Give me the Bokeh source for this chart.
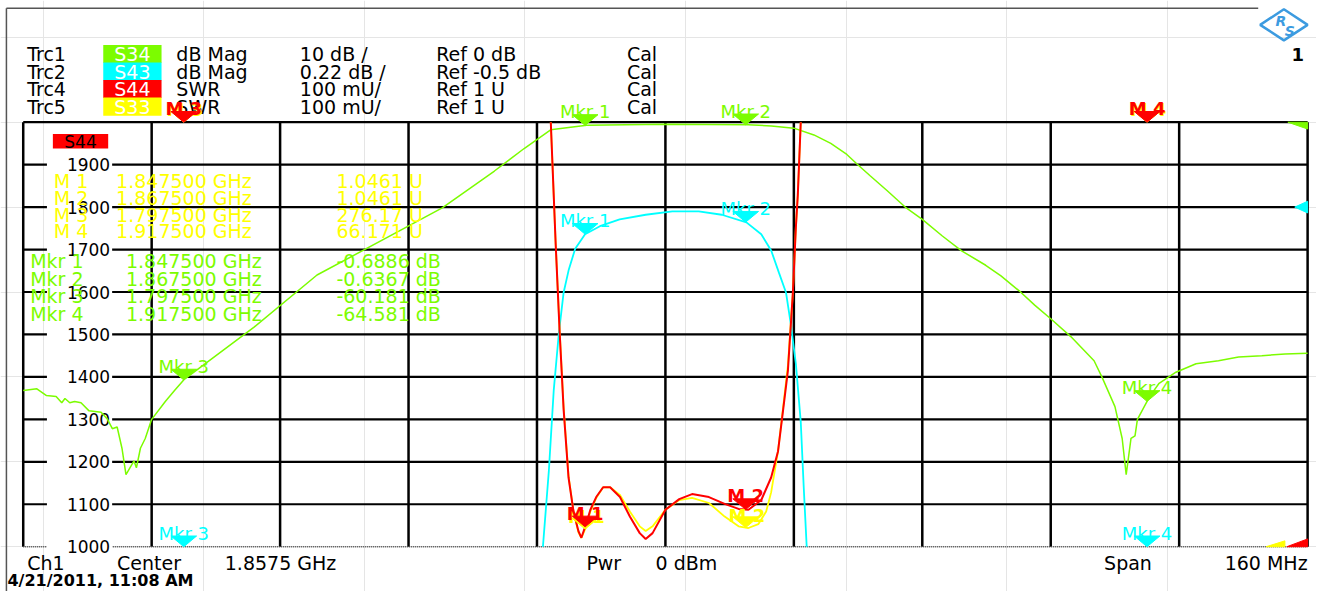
import numpy as np
from bokeh.plotting import figure
from bokeh.models import Range1d
from bokeh.embed import file_html
from bokeh.resources import INLINE
from bokeh.core.properties import value

# ---------------- data ----------------
start_ghz = 1.7775
stop_ghz = 1.9375
x_div_ghz = 0.016
axis_min = 1000
axis_max = 2000
y_tick_values = [1000, 1100, 1200, 1300, 1400, 1500, 1600, 1700, 1800, 1900]
y_tick_labels = ["1000", "1100", "1200", "1300", "1400", "1500", "1600", "1700", "1800", "1900"]

trace_ids = ["Trc1", "Trc2", "Trc4", "Trc5"]
trace_params = ["S34", "S43", "S44", "S33"]
trace_formats = ["dB Mag", "dB Mag", "SWR", "SWR"]
trace_scales = ["10 dB /", "0.22 dB /", "100 mU/", "100 mU/"]
trace_refs = ["Ref 0 dB", "Ref -0.5 dB", "Ref 1 U", "Ref 1 U"]
trace_cal = ["Cal", "Cal", "Cal", "Cal"]
ref_levels = [2000, 1800, 1000, 1000]   # reference positions on the SWR (mU) axis

# Trc1  S34 (green), values in axis units
s34_freq = [1.7775, 1.7792, 1.7804, 1.7816, 1.7823, 1.7827, 1.7833, 1.7839, 1.7847, 1.7857,
            1.7872, 1.7880, 1.7886, 1.7892, 1.7898, 1.7903, 1.7913, 1.7916, 1.7921, 1.7927,
            1.7935, 1.7952, 1.7964, 1.7976, 1.8063, 1.8141, 1.8297, 1.8362, 1.8399, 1.8432,
            1.8477, 1.8575, 1.8678, 1.8707, 1.8735, 1.8760, 1.8781, 1.8801, 1.8814, 1.8830,
            1.8851, 1.8875, 1.8895, 1.8920, 1.8944, 1.8974, 1.8993, 1.9018, 1.9035, 1.9055,
            1.9080, 1.9109, 1.9119, 1.9135, 1.9144, 1.9149, 1.9155, 1.9160, 1.9163, 1.9178,
            1.9190, 1.9211, 1.9236, 1.9264, 1.9289, 1.9318, 1.9347, 1.9375]
s34_value = [1368, 1372, 1356, 1354, 1339, 1349, 1339, 1342, 1339, 1320,
             1317, 1300, 1278, 1282, 1232, 1170, 1202, 1186, 1232, 1255,
             1300, 1342, 1369, 1395, 1518, 1640, 1798, 1885, 1938, 1982,
             1993, 1995, 1994, 1991, 1986, 1970, 1950, 1924, 1901, 1874,
             1839, 1798, 1771, 1732, 1697, 1663, 1638, 1599, 1569, 1537,
             1495, 1438, 1399, 1330, 1255, 1170, 1255, 1261, 1300, 1353,
             1385, 1411, 1431, 1438, 1447, 1450, 1454, 1456]

# Trc2  S43 (cyan)
s43_freq = [1.84224, 1.84298, 1.84359, 1.84421, 1.84482, 1.84544, 1.84626, 1.84749, 1.84934,
            1.85180, 1.85504, 1.85836, 1.86165, 1.86452, 1.86759, 1.86944, 1.87067, 1.87165,
            1.87252, 1.87313, 1.87375, 1.87436, 1.87473, 1.87510]
s43_value = [1000, 1179, 1369, 1500, 1599, 1651, 1702, 1736, 1755,
             1771, 1782, 1790, 1790, 1782, 1764, 1736, 1698, 1645,
             1599, 1523, 1431, 1294, 1140, 1000]

# Trc4  S44 (red)
s44_freq = [1.84322, 1.84383, 1.84432, 1.84482, 1.84543, 1.84605, 1.84666, 1.84703, 1.84765,
            1.84815, 1.84888, 1.84974, 1.85061, 1.85184, 1.85307, 1.85430, 1.85504, 1.85590,
            1.85750, 1.85922, 1.86082, 1.86292, 1.86488, 1.86661, 1.86784, 1.86944, 1.87067,
            1.87153, 1.87227, 1.87276, 1.87338, 1.87375, 1.87399, 1.87436]
s44_value = [2000, 1713, 1507, 1323, 1163, 1083, 1037, 1021, 1055,
             1087, 1117, 1140, 1140, 1117, 1071, 1032, 1018, 1032,
             1087, 1112, 1124, 1117, 1101, 1089, 1087, 1110, 1163,
             1225, 1339, 1415, 1599, 1752, 1828, 2000]

# Trc5  S33 (yellow)
s33_freq = [1.84322, 1.84383, 1.84432, 1.84482, 1.84543, 1.84605, 1.84666, 1.84703, 1.84765,
            1.84815, 1.84888, 1.84974, 1.85061, 1.85184, 1.85307, 1.85430, 1.85504, 1.85590,
            1.85750, 1.85922, 1.86082, 1.86292, 1.86488, 1.86661, 1.86784, 1.86907, 1.87005,
            1.87067, 1.87153, 1.87227, 1.87276, 1.87338, 1.87375, 1.87399, 1.87436]
s33_value = [2000, 1713, 1511, 1328, 1167, 1083, 1034, 1021, 1048,
             1083, 1115, 1140, 1140, 1122, 1083, 1048, 1037, 1048,
             1087, 1110, 1115, 1103, 1071, 1048, 1044, 1053, 1083,
             1128, 1225, 1346, 1427, 1599, 1752, 1828, 2000]

marker_freq = [1.8475, 1.8675, 1.7975, 1.9175]
marker_freq_text = ["1.847500 GHz", "1.867500 GHz", "1.797500 GHz", "1.917500 GHz"]
mkr_names = ["Mkr 1", "Mkr 2", "Mkr 3", "Mkr 4"]
m_names = ["M 1", "M 2", "M 3", "M 4"]
s33_readout = ["1.0461 U", "1.0461 U", "276.17 U", "66.171 U"]
s34_readout = ["-0.6886 dB", "-0.6367 dB", "-60.181 dB", "-64.581 dB"]

footer_texts = ["Ch1", "Center", "1.8575 GHz", "Pwr", "0 dBm", "Span"]
footer_right = "160 MHz"
date_text = "4/21/2011, 11:08 AM"
active_trace = "S44"
window_no = "1"

GREEN = "#7CFC00"
CYAN = "#00FFFF"
RED = "#FF0000"
YELLOW = "#FFFF00"
trace_colors = [GREEN, CYAN, RED, YELLOW]

# ---------------- layout (reference-image pixels) ----------------
REF_W, REF_H = 1332, 607
W, H = 1316, 591
GL, GR, GT, GB = 23, 1323, 125, 561
DX = (stop_ghz - start_ghz) / (GR - GL)
DV = (axis_max - axis_min) / (GB - GT)


def fx(px):
    return start_ghz + (px - GL) * DX


def vy(py):
    return axis_min + (GB - py) * DV


FONT = value("DejaVu Sans")

p = figure(width=W, height=H,
           x_range=Range1d(fx(0), fx(REF_W)),
           y_range=Range1d(vy(REF_H), vy(0)),
           output_backend="svg", toolbar_location=None,
           x_axis_location=None, y_axis_location=None, min_border=0)
p.outline_line_color = None
p.background_fill_color = "white"
p.border_fill_color = "white"


def txt(xs, ys, texts, color="black", size="19px", align="left", baseline="middle", style="normal"):
    p.text(x=xs, y=ys, text=texts, text_color=color, text_font=FONT, text_font_size=size,
           text_align=align, text_baseline=baseline, text_font_style=style)


# page frame
p.line([fx(6), fx(1273)], [vy(8), vy(8)], line_color="#555555", line_width=1.5)
p.line([fx(6), fx(6)], [vy(8), vy(607)], line_color="#555555", line_width=1.5)

# grid
xt = [start_ghz + k * x_div_ghz for k in range(11)]
p.segment(x0=xt, y0=[axis_min] * 11, x1=xt, y1=[axis_max] * 11, line_color="black", line_width=2.5)
hy = y_tick_values[1:] + [axis_max]
p.segment(x0=[start_ghz] * len(hy), y0=hy, x1=[stop_ghz] * len(hy), y1=hy, line_color="black", line_width=2.2)
p.segment(x0=[start_ghz], y0=[axis_min], x1=[stop_ghz], y1=[axis_min], line_color="#444444",
          line_width=1.5, line_dash="1 1")

# y tick labels with white background
p.rect(x=[fx(80)] * len(y_tick_values), y=y_tick_values, width=66 * DX, height=14 * DV,
       fill_color="white", line_color=None)
txt([fx(111)] * len(y_tick_values), y_tick_values, y_tick_labels, size="17px", align="right")

# header
rows = [vy(55 + 18 * i) for i in range(4)]
p.rect(x=[fx(133.5)] * 4, y=rows, width=59 * DX, height=18.5 * DV, fill_color=trace_colors, line_color=None)
txt([fx(27)] * 4, rows, trace_ids)
txt([fx(133.5)] * 4, rows, trace_params, color="white", align="center")
txt([fx(178)] * 4, rows, trace_formats)
txt([fx(303)] * 4, rows, trace_scales)
txt([fx(441)] * 4, rows, trace_refs)
txt([fx(634)] * 4, rows, trace_cal)

# active trace box
p.rect(x=[fx(81)], y=[vy(144.5)], width=56 * DX, height=15 * DV, fill_color=RED, line_color=None)
txt([fx(81)], [vy(145)], [active_trace], size="17px", align="center")

# traces
p.line(s34_freq, s34_value, line_color=GREEN, line_width=1.5)
p.line(s43_freq, s43_value, line_color=CYAN, line_width=1.8)
p.line(s33_freq, s33_value, line_color=YELLOW, line_width=1.8)
p.line(s44_freq, s44_value, line_color=RED, line_width=2)

# marker tables
yrows = [vy(185 + 17.4 * i) for i in range(4)]
txt([fx(54)] * 4, yrows, m_names, color=YELLOW)
txt([fx(117)] * 4, yrows, marker_freq_text, color=YELLOW)
txt([fx(340)] * 4, yrows, s33_readout, color=YELLOW)
grows = [vy(268 + 18 * i) for i in range(4)]
txt([fx(30)] * 4, grows, mkr_names, color=GREEN)
txt([fx(127)] * 4, grows, marker_freq_text, color=GREEN)
txt([fx(340)] * 4, grows, s34_readout, color=GREEN)


# markers
def draw_markers(tr_f, tr_v, names, color, style="normal", dpx=0.0):
    v = np.clip(np.interp(marker_freq, tr_f, tr_v), axis_min, axis_max)
    xs = [[f - 13 * DX, f + 13 * DX, f] for f in marker_freq]
    ys = [[vi + 11 * DV, vi + 11 * DV, vi] for vi in v]
    p.patches(xs, ys, fill_color=color, line_color=color)
    txt([f + dpx * DX for f in marker_freq], list(v + (14 - dpx) * DV), names, color=color,
        size="18px", align="center", baseline="alphabetic", style=style)


draw_markers(s34_freq, s34_value, mkr_names, GREEN)
draw_markers(s43_freq, s43_value, mkr_names, CYAN)
draw_markers(s33_freq, s33_value, m_names, YELLOW, style="bold", dpx=1.2)
draw_markers(s44_freq, s44_value, m_names, RED, style="bold")

# reference level indicators
gr = ref_levels[0]
p.patch([fx(1303), fx(1323), fx(1323)], [gr, gr, gr - 7 * DV], fill_color=GREEN, line_color=GREEN)
cr = ref_levels[1]
p.patch([fx(1310), fx(1323), fx(1323)], [cr, cr + 6 * DV, cr - 6 * DV], fill_color=CYAN, line_color=CYAN)
yr = ref_levels[3]
p.patch([fx(1281), fx(1300), fx(1300)], [yr, yr + 6 * DV, yr], fill_color=YELLOW, line_color=YELLOW)
rr = ref_levels[2]
p.patch([fx(1302), fx(1323), fx(1323)], [rr, rr + 8 * DV, rr], fill_color=RED, line_color=RED)

# footer
fy = vy(578)
txt([fx(27), fx(118), fx(227), fx(593), fx(663), fx(1117)], [fy] * 6, footer_texts)
txt([fx(1323)], [fy], [footer_right], align="right")
txt([fx(7)], [vy(605)], [date_text], size="16px", baseline="bottom", style="bold")

# logo and window number
BLUE = "#3C9BE0"
p.patch([fx(1275), fx(1299), fx(1323), fx(1299)], [vy(25), vy(9), vy(25), vy(41)],
        fill_color=None, line_color=BLUE, line_width=2.5)
txt([fx(1296)], [vy(21)], ["R"], color=BLUE, size="14px", align="center", style="bold italic")
txt([fx(1305)], [vy(31)], ["S"], color=BLUE, size="14px", align="center", style="bold italic")
txt([fx(1313)], [vy(55)], [window_no], size="18px", align="center", style="bold")

open("out.html", "w").write(file_html(p, INLINE))
